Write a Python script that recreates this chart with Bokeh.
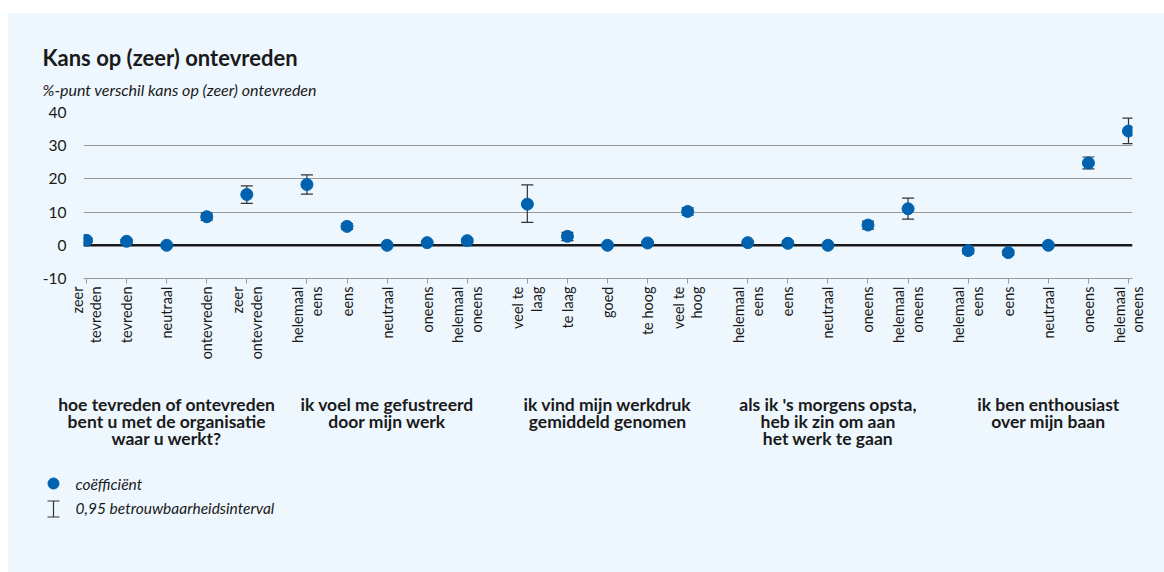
import math
from bokeh.plotting import figure
from bokeh.models import (ColumnDataSource, Whisker, TeeHead, FixedTicker, Span,
                          Range1d, Spacer)
from bokeh.layouts import column, row
from bokeh.embed import file_html
from bokeh.resources import INLINE
from bokeh.core.properties import value

# ---------------- data ----------------
group_titles = [
    "hoe tevreden of ontevreden\nbent u met de organisatie\nwaar u werkt?",
    "ik voel me gefustreerd\ndoor mijn werk",
    "ik vind mijn werkdruk\ngemiddeld genomen",
    "als ik 's morgens opsta,\nheb ik zin om aan\nhet werk te gaan",
    "ik ben enthousiast\nover mijn baan",
]
cats_tevreden = ["zeer\ntevreden", "tevreden", "neutraal", "ontevreden", "zeer\nontevreden"]
cats_eens = ["helemaal\neens", "eens", "neutraal", "oneens", "helemaal\noneens"]
cats_werkdruk = ["veel te\nlaag", "te laag", "goed", "te hoog", "veel te\nhoog"]
categories = cats_tevreden + cats_eens + cats_werkdruk + cats_eens + cats_eens

coef = [1.5, 1.2, 0.0, 8.6, 15.3,
        18.3, 5.7, 0.0, 0.8, 1.4,
        12.4, 2.7, 0.0, 0.7, 10.2,
        0.8, 0.6, 0.0, 6.1, 11.0,
        -1.6, -2.2, 0.0, 24.8, 34.4]
ci_lower = [0.9, 0.7, 0.0, 7.5, 12.6,
            15.4, 4.8, 0.0, 0.4, 0.9,
            6.9, 1.4, 0.0, 0.3, 9.1,
            0.4, 0.2, 0.0, 4.9, 7.9,
            -2.5, -3.0, 0.0, 23.0, 30.6]
ci_upper = [2.1, 1.7, 0.0, 9.7, 17.9,
            21.2, 6.5, 0.0, 1.2, 1.9,
            18.2, 3.9, 0.0, 1.1, 11.3,
            1.2, 1.0, 0.0, 7.3, 14.2,
            -0.9, -1.5, 0.0, 26.6, 38.3]
y_ticks = [-10, 0, 10, 20, 30, 40]
y_tick_labels = ["-10", "0", "10", "20", "30", "40"]
title = "Kans op (zeer) ontevreden"
subtitle = "%-punt verschil kans op (zeer) ontevreden"
legend_labels = ["coëfficiënt", "0,95 betrouwbaarheidsinterval"]

# ---------------- style ----------------
BG = "#eef7fe"
BLUE = "#0062ae"
TXT = "#1a1a1a"
GRID = "#9a9a9a"
FONT = "Lato"
W = 1156

n_per = 5
gap = 0.5
xpos = [float(g * (n_per + gap) + i) for g in range(5) for i in range(n_per)]

src = ColumnDataSource(dict(x=xpos, y=coef, lower=ci_lower, upper=ci_upper))
wmask = [lo != up for lo, up in zip(ci_lower, ci_upper)]
wsrc = ColumnDataSource(dict(
    x=[x for x, m in zip(xpos, wmask) if m],
    lower=[v for v, m in zip(ci_lower, wmask) if m],
    upper=[v for v, m in zip(ci_upper, wmask) if m],
))


def blank(height, **kw):
    f = figure(width=W, height=height, output_backend="svg", toolbar_location=None,
               x_axis_location=None, y_axis_location=None, min_border=0,
               background_fill_color=BG, border_fill_color=BG, outline_line_color=None,
               **kw)
    f.grid.visible = False
    f.frame_align = False
    return f


# ---------------- title figure ----------------
top = blank(87, x_range=Range1d(0, W), y_range=Range1d(87, 0))
top.text(x=[34], y=[44], text=[title], text_font=value(FONT), text_font_style="bold",
         text_font_size="22px", text_color=TXT, text_baseline="alphabetic")
top.text(x=[34], y=[76], text=[subtitle], text_font=value(FONT), text_font_style="italic",
         text_font_size="16px", text_color=TXT, text_baseline="alphabetic")

# ---------------- main figure ----------------
BL, BR = 75, 32
x_start, x_end = -0.075, 26.1
p = figure(width=W, height=270, output_backend="svg", toolbar_location=None,
           x_range=Range1d(x_start, x_end), y_range=Range1d(-10, 40),
           min_border_left=BL, min_border_right=BR, min_border_top=12,
           min_border_bottom=92,
           background_fill_color=BG, border_fill_color=BG, outline_line_color=None)
p.frame_align = False

p.yaxis.ticker = FixedTicker(ticks=y_ticks)
p.yaxis.major_label_overrides = {t: s for t, s in zip(y_ticks, y_tick_labels)}
p.yaxis.axis_line_color = None
p.yaxis.major_tick_line_color = None
p.yaxis.minor_tick_line_color = None
p.yaxis.major_label_text_font = FONT
p.yaxis.major_label_text_font_size = "15.5px"
p.yaxis.major_label_text_color = TXT
p.yaxis.major_label_standoff = 11

p.xaxis.ticker = FixedTicker(ticks=xpos)
p.xaxis.major_label_overrides = {x: c for x, c in zip(xpos, categories)}
p.xaxis.major_label_orientation = math.pi / 2
p.xaxis.axis_line_color = GRID
p.xaxis.major_tick_line_color = GRID
p.xaxis.major_tick_out = 5
p.xaxis.major_tick_in = 0
p.xaxis.minor_tick_line_color = None
p.xaxis.major_label_text_font = FONT
p.xaxis.major_label_text_font_size = "14.5px"
p.xaxis.major_label_text_color = TXT
p.xaxis.major_label_text_line_height = 1.1
p.xaxis.major_label_standoff = 3

p.xgrid.visible = False
p.ygrid.ticker = FixedTicker(ticks=[10, 20, 30, 40])
p.ygrid.grid_line_color = GRID
p.ygrid.grid_line_width = 1

p.add_layout(Span(location=0, dimension="width", line_color=TXT, line_width=2.5,
                  level="underlay"))
p.scatter("x", "y", source=src, size=12, color=BLUE)
head_kw = dict(size=12, line_color="#333333", line_width=1.2)
p.add_layout(Whisker(base="x", upper="upper", lower="lower", source=wsrc,
                     line_color="#333333", line_width=1.2,
                     upper_head=TeeHead(**head_kw), lower_head=TeeHead(**head_kw)))

# ---------------- bottom figure (group labels + legend) ----------------
scale = (W - BL - BR) / (x_end - x_start)
bx0 = x_start - BL / scale
bx1 = x_end + BR / scale
BH = 202
bot = blank(BH, x_range=Range1d(bx0, bx1), y_range=Range1d(BH, 0))


def px(v):
    return bx0 + v / scale


gx, gy, gt = [], [], []
for g, t in enumerate(group_titles):
    cx = g * (n_per + gap) + (n_per - 1) / 2
    for k, line in enumerate(t.split("\n")):
        gx.append(cx)
        gy.append(34 + 17 * k)
        gt.append(line)
bot.text(x=gx, y=gy, text=gt, text_font=value(FONT), text_font_style="bold",
         text_font_size="17.5px", text_color=TXT, text_baseline="alphabetic",
         text_align="center")

bot.scatter([px(45)], [113], size=11, color=BLUE)
bot.segment(x0=[px(45), px(39), px(39)], y0=[130.5, 130.5, 146.5],
            x1=[px(45), px(51), px(51)], y1=[146.5, 130.5, 146.5],
            line_color="#333333", line_width=1.2)
bot.text(x=[px(67), px(67)], y=[113, 137], text=legend_labels,
         text_font=value(FONT), text_font_style="italic", text_font_size="15.5px",
         text_color=TXT, text_baseline="middle", text_align="left")

inner = column(top, p, bot, spacing=0, styles={"background-color": BG})
layout = column(Spacer(height=13, width=W + 8),
                row(Spacer(width=8, height=559), inner, spacing=0),
                spacing=0)
open("out.html", "w").write(file_html(layout, INLINE))
